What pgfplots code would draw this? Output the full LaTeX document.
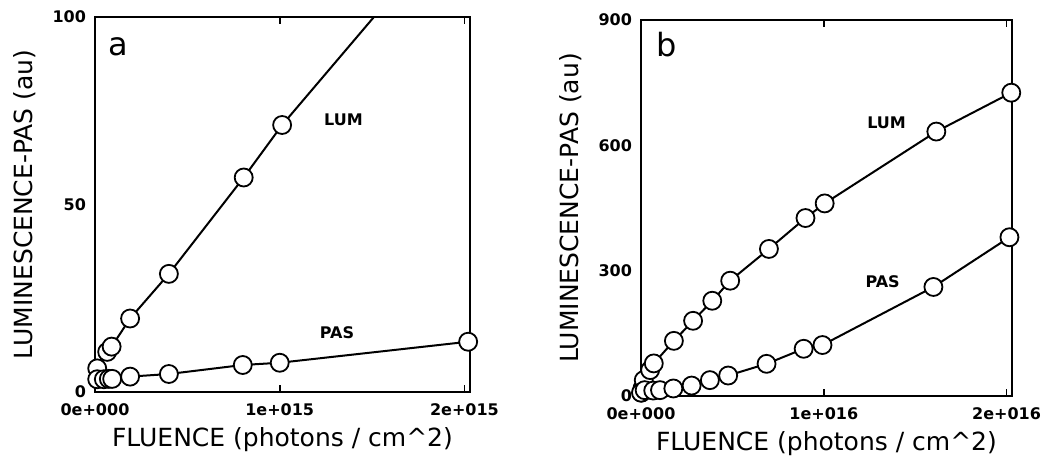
\documentclass[border=0pt]{standalone}
\usepackage{pgfplots}
\pgfplotsset{compat=1.18}
\usepackage{fontspec}
\setmainfont{DejaVu Sans}

\pgfplotsset{
  myax/.style={
    scale only axis,
    axis line style={line width=1pt},
    tick style={line width=0.8pt, black},
    tick align=inside,
    major tick length=3.5pt,
    ytick style={draw=none},
    scaled x ticks=false,
    scaled y ticks=false,
    ticklabel style={font=\fontsize{8}{9}\selectfont\bfseries},
    xticklabel style={yshift=-2.5pt},
    yticklabel style={xshift=-1pt},
    every axis x label/.style={at={(axis description cs:0.5,0)}, yshift=-24pt, anchor=center},
    every axis y label/.style={at={(axis description cs:0,0.5)}, xshift=-35pt, anchor=center, rotate=90},
    label style={font=\fontsize{12.5}{14}\selectfont},
    xlabel={FLUENCE (photons / cm\textasciicircum2)},
    ylabel={LUMINESCENCE-PAS (au)},
  },
  ser/.style={black, line width=1pt, mark=*, mark size=4.5pt,
    mark options={fill=white, draw=black, line width=0.9pt}},
}
\tikzset{lab/.style={font=\fontsize{8}{9}\selectfont\bfseries}}

\begin{document}
\begin{tikzpicture}
\useasboundingbox (-47.5pt,-36.5pt) rectangle (475.5pt,196pt);

% ---------- panel a ----------
\begin{axis}[myax, at={(0pt,0pt)}, anchor=south west,
  width=187.5pt, height=187.5pt,
  xmin=0, xmax=2.03e15, ymin=0, ymax=100,
  xtick={0,1e15,2e15}, xticklabels={0e+000,1e+015,2e+015},
  ytick={0,50,100}, yticklabels={0,50,100}]
\addplot[ser, mark indices={1,2,3,4,5,6,7}] coordinates {
  (0.012e15,6.3) (0.066e15,10.7) (0.09e15,12.1) (0.19e15,19.6)
  (0.40e15,31.5) (0.805e15,57.2) (1.013e15,71.2) (1.51e15,100)
};
\addplot[ser] coordinates {
  (0.012e15,3.4) (0.048e15,3.4) (0.075e15,3.5) (0.093e15,3.5)
  (0.19e15,4.1) (0.40e15,4.8) (0.80e15,7.2) (1.0e15,7.8) (2.02e15,13.4)
};
\node[lab] at (axis cs:1.345e15,72.5) {LUM};
\node[lab] at (axis cs:1.31e15,15.7) {PAS};
\node at (axis description cs:0.063,0.92) {\fontsize{16}{16}\selectfont a};
\end{axis}

% ---------- panel b ----------
\begin{axis}[myax, at={(273pt,-2pt)}, anchor=south west,
  width=185.5pt, height=188pt,
  xmin=0, xmax=2.03e16, ymin=0, ymax=900,
  xtick={0,1e16,2e16}, xticklabels={0e+000,1e+016,2e+016},
  ytick={0,300,600,900}, yticklabels={0,300,600,900}]
\addplot[ser] coordinates {
  (0.002e16,8) (0.008e16,18) (0.015e16,38) (0.05e16,62) (0.07e16,78)
  (0.18e16,132) (0.285e16,180) (0.39e16,228) (0.488e16,276) (0.70e16,352)
  (0.90e16,426) (1.005e16,461) (1.616e16,633) (2.026e16,726)
};
\addplot[ser] coordinates {
  (0.0e16,8) (0.02e16,14) (0.067e16,13) (0.104e16,14) (0.177e16,18)
  (0.277e16,25) (0.377e16,38) (0.477e16,49) (0.687e16,77) (0.89e16,113)
  (0.993e16,122) (1.60e16,261) (2.016e16,380)
};
\node[lab] at (axis cs:1.344e16,655) {LUM};
\node[lab] at (axis cs:1.322e16,274) {PAS};
\node at (axis description cs:0.07,0.934) {\fontsize{16}{16}\selectfont b};
\end{axis}
\end{tikzpicture}
\end{document}
